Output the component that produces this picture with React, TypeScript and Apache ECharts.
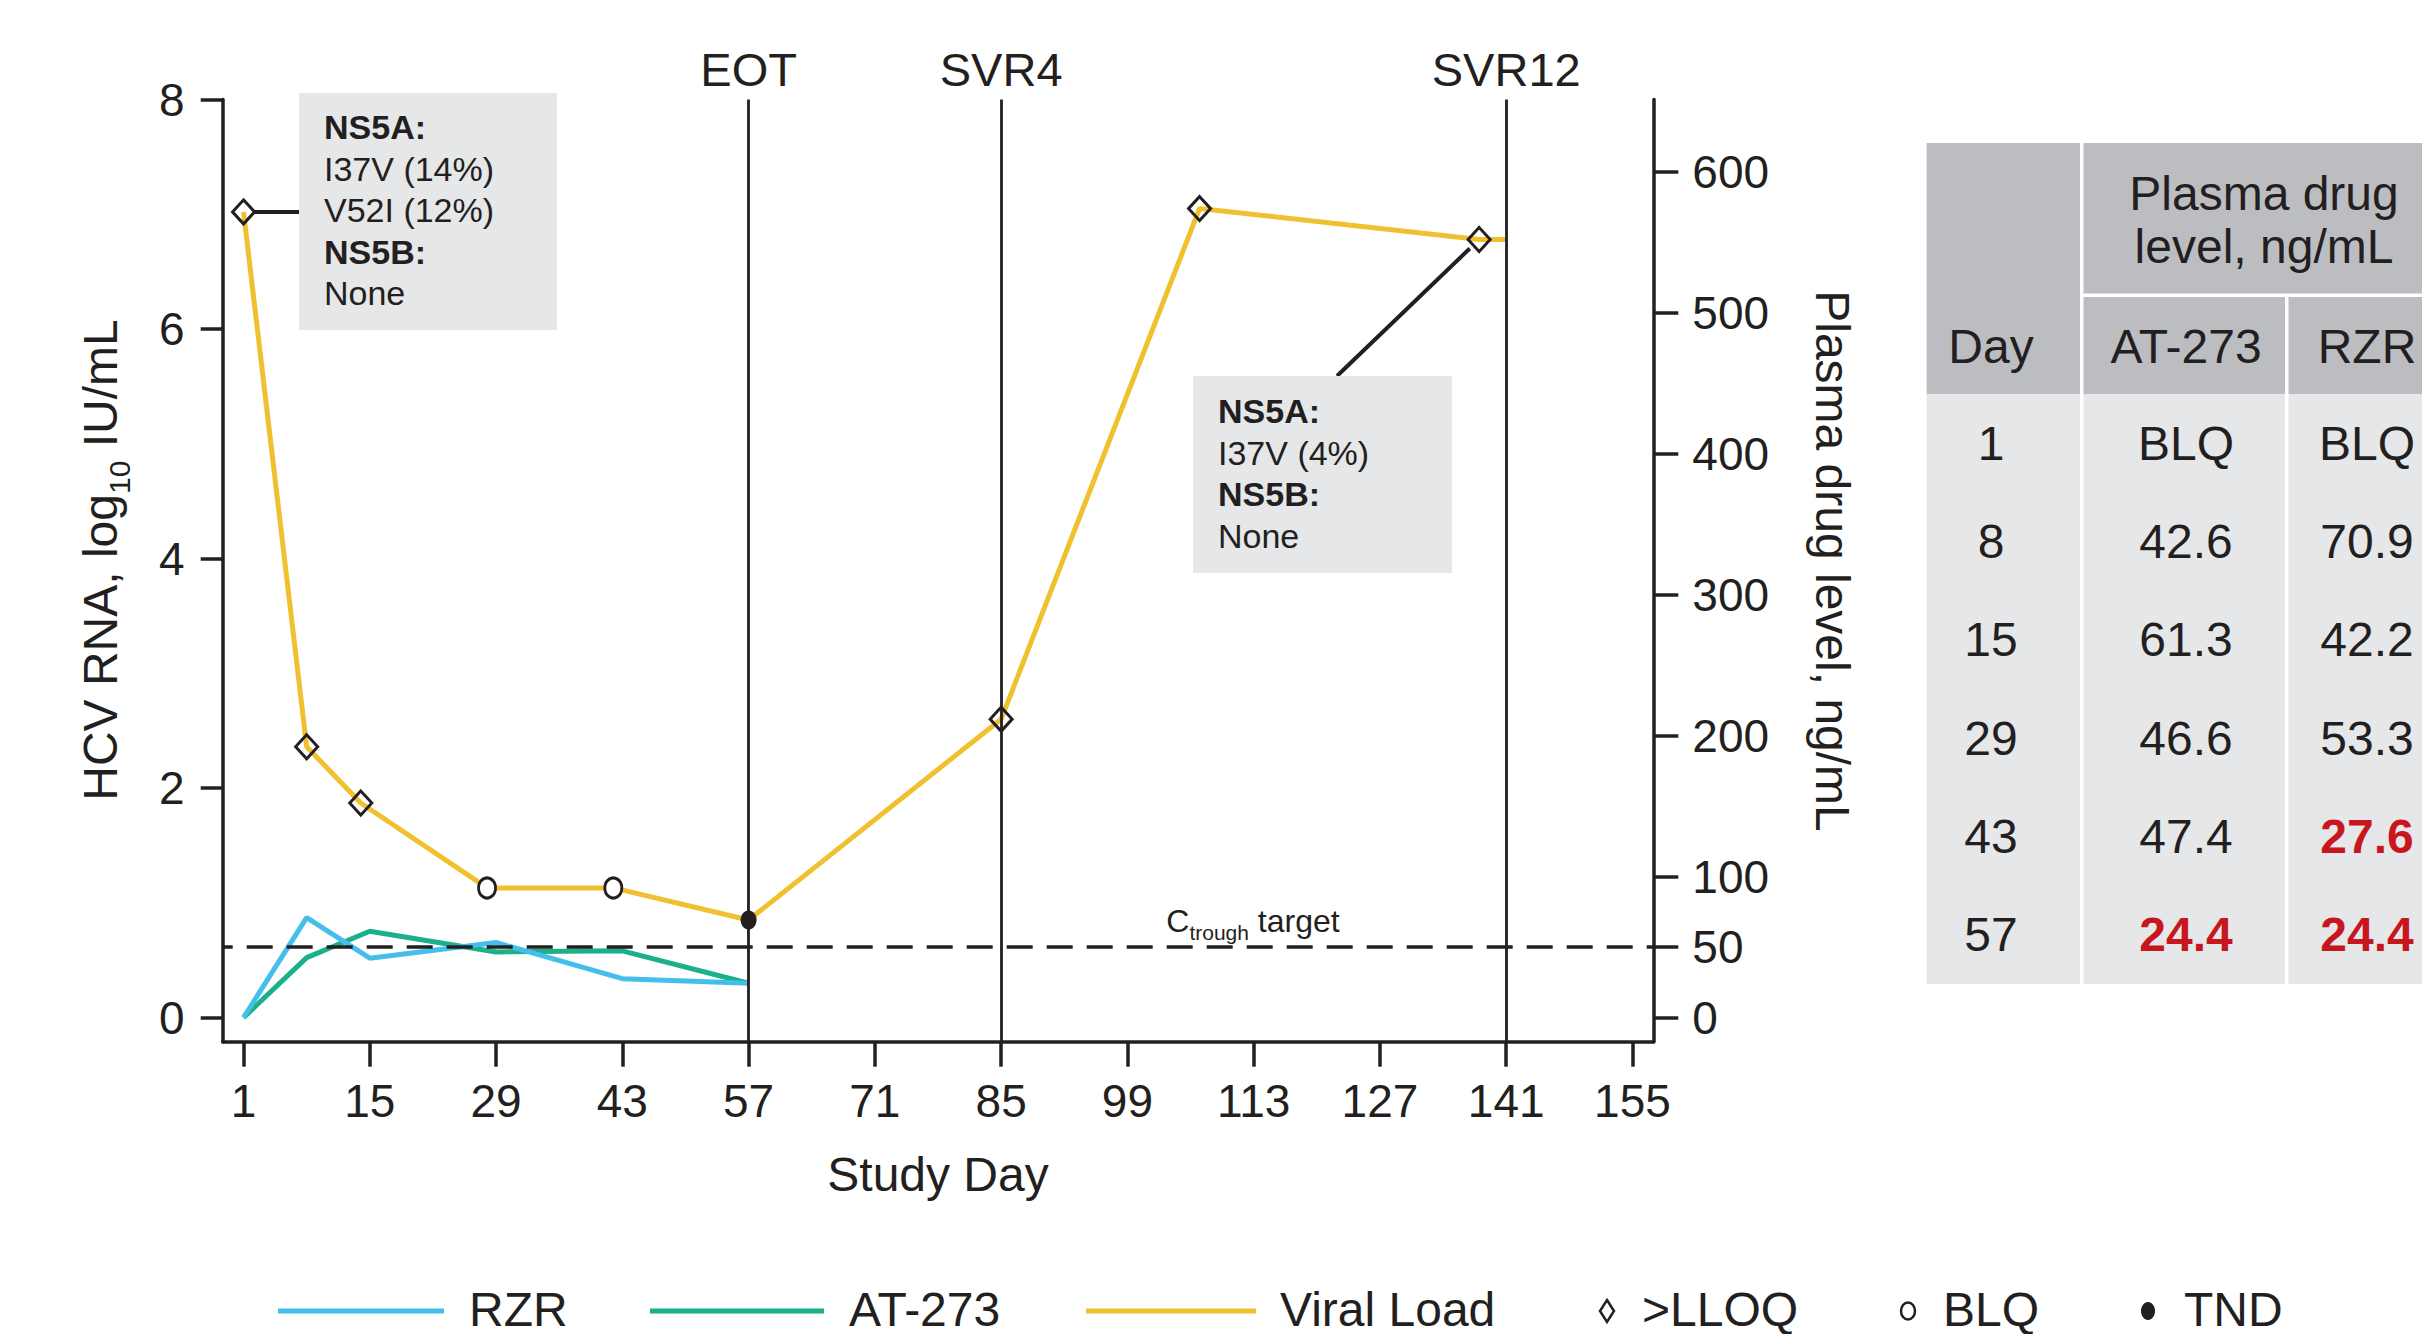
import { useEffect, useRef } from "react";
import * as echarts from "echarts";

const FONT = "'Liberation Sans', Arial, Helvetica, sans-serif";
const INK = "#231F20";
const RZR_COLOR = "#45BFEA";
const AT_COLOR = "#19B08A";
const VL_COLOR = "#EFC12F";
const RED = "#C8161E";
const BOX_FILL = "#E6E7E8";
const HEAD_FILL = "#BCBDC0";

// Plasma drug levels (ng/mL) at the PK sampling days; null = BLQ (plotted at 0)
const pkDays = [1, 8, 15, 29, 43, 57];
const at273Levels: (number | null)[] = [null, 42.6, 61.3, 46.6, 47.4, 24.4];
const rzrLevels: (number | null)[] = [null, 70.9, 42.2, 53.3, 27.6, 24.4];
const lowLevelCutoff = 30; // levels under this are printed in red

// HCV RNA, log10 IU/mL
const vlDays = [1, 8, 14, 28, 42, 57, 85, 107, 138, 141];
const vlValues = [7.02, 2.36, 1.87, 1.13, 1.13, 0.85, 2.6, 7.05, 6.78, 6.78];
const vlStatus = ["LLOQ", "LLOQ", "LLOQ", "BLQ", "BLQ", "TND", "LLOQ", "LLOQ", "LLOQ", ""];

const xTicks = [1, 15, 29, 43, 57, 71, 85, 99, 113, 127, 141, 155];
const leftTicks = [0, 2, 4, 6, 8];
const rightTicks = [0, 50, 100, 200, 300, 400, 500, 600];

const milestoneDays = [57, 85, 141];
const milestoneLabels = ["EOT", "SVR4", "SVR12"];
const ctroughTarget = 50;

const baselineNotes = [
  { text: "NS5A:", bold: true },
  { text: "I37V (14%)", bold: false },
  { text: "V52I (12%)", bold: false },
  { text: "NS5B:", bold: true },
  { text: "None", bold: false },
];
const reboundNotes = [
  { text: "NS5A:", bold: true },
  { text: "I37V (4%)", bold: false },
  { text: "NS5B:", bold: true },
  { text: "None", bold: false },
];

const legendLines = [
  { label: "RZR", color: RZR_COLOR, x0: 278, x1: 444, tx: 469 },
  { label: "AT-273", color: AT_COLOR, x0: 650, x1: 824, tx: 849 },
  { label: "Viral Load", color: VL_COLOR, x0: 1086, x1: 1256, tx: 1280 },
];

// Axis extents (the plot frame sits slightly outside the first/last ticks)
const X_MIN = -1.31;
const X_MAX = 157.31;
const L_MIN = -0.21;
const L_MAX = 8;
const R_MIN = -17.1;
const R_MAX = 651.6;

function markerFor(status: string) {
  if (status === "LLOQ") {
    return {
      symbol: "diamond",
      symbolSize: [22, 24],
      itemStyle: { color: "rgba(0,0,0,0)", borderColor: INK, borderWidth: 3 },
    };
  }
  if (status === "BLQ") {
    return {
      symbol: "circle",
      symbolSize: [17, 20],
      itemStyle: { color: "#ffffff", borderColor: INK, borderWidth: 3 },
    };
  }
  if (status === "TND") {
    return {
      symbol: "circle",
      symbolSize: [16, 19],
      itemStyle: { color: INK, borderColor: INK, borderWidth: 0 },
    };
  }
  return { symbol: "none", symbolSize: 0 };
}

function buildOption() {
  const axisLineStyle = { color: INK, width: 3.5 };
  const labelStyle = { fontSize: 46, color: INK, fontFamily: FONT };
  return {
    animation: false,
    backgroundColor: "#ffffff",
    textStyle: { fontFamily: FONT },
    grid: { left: 222.7, right: 768.7, top: 99.5, bottom: 292.3, containLabel: false },
    xAxis: {
      type: "value",
      min: X_MIN,
      max: X_MAX,
      axisLine: { show: true, onZero: false, lineStyle: axisLineStyle },
      axisTick: { show: true, customValues: xTicks, length: 25, lineStyle: axisLineStyle },
      axisLabel: { ...labelStyle, customValues: xTicks, margin: 36 },
      splitLine: { show: false },
    },
    yAxis: [
      {
        type: "value",
        position: "left",
        min: L_MIN,
        max: L_MAX,
        axisLine: { show: true, onZero: false, lineStyle: axisLineStyle },
        axisTick: { show: true, customValues: leftTicks, length: 22, lineStyle: axisLineStyle },
        axisLabel: { ...labelStyle, customValues: leftTicks, margin: 38 },
        splitLine: { show: false },
      },
      {
        type: "value",
        position: "right",
        min: R_MIN,
        max: R_MAX,
        axisLine: { show: true, onZero: false, lineStyle: axisLineStyle },
        axisTick: { show: true, customValues: rightTicks, length: 25, lineStyle: axisLineStyle },
        axisLabel: { ...labelStyle, customValues: rightTicks, margin: 39 },
        splitLine: { show: false },
      },
    ],
    series: [
      {
        // Ctrough target reference
        type: "line",
        yAxisIndex: 1,
        data: [],
        z: 1,
        markLine: {
          silent: true,
          symbol: ["none", "none"],
          label: { show: false },
          lineStyle: { type: [26, 14], dashOffset: 16, width: 3.5, color: INK },
          data: [{ yAxis: ctroughTarget }],
        },
      },
      {
        // Study milestones
        type: "line",
        yAxisIndex: 0,
        data: [],
        z: 2,
        markLine: {
          silent: true,
          symbol: ["none", "none"],
          lineStyle: { type: "solid", width: 2.8, color: INK },
          label: {
            show: true,
            position: "end",
            formatter: "{b}",
            distance: 7,
            fontSize: 47,
            color: INK,
            fontFamily: FONT,
          },
          data: milestoneDays.map((d, i) => ({ xAxis: d, name: milestoneLabels[i] })),
        },
      },
      {
        name: "AT-273",
        type: "line",
        yAxisIndex: 1,
        z: 3,
        symbol: "none",
        lineStyle: { width: 5, color: AT_COLOR },
        itemStyle: { color: AT_COLOR },
        data: pkDays.map((d, i) => [d, at273Levels[i] ?? 0]),
      },
      {
        name: "RZR",
        type: "line",
        yAxisIndex: 1,
        z: 3,
        symbol: "none",
        lineStyle: { width: 5, color: RZR_COLOR },
        itemStyle: { color: RZR_COLOR },
        data: pkDays.map((d, i) => [d, rzrLevels[i] ?? 0]),
      },
      {
        name: "Viral Load",
        type: "line",
        yAxisIndex: 0,
        z: 4,
        lineStyle: { width: 5, color: VL_COLOR },
        itemStyle: { color: VL_COLOR },
        data: vlDays.map((d, i) => ({ value: [d, vlValues[i]], ...markerFor(vlStatus[i]) })),
      },
    ],
  };
}

function textEl(text: string, x: number, y: number, size: number, opts: any = {}) {
  return {
    type: "text",
    z: 20,
    x,
    y,
    rotation: opts.rotation ?? 0,
    style: {
      text,
      fontSize: size,
      fontFamily: FONT,
      fontWeight: opts.bold ? "bold" : "normal",
      fill: opts.fill ?? INK,
      align: opts.align ?? "center",
      verticalAlign: "middle",
      lineHeight: opts.lineHeight,
      rich: opts.rich,
    },
  };
}

function noteBox(notes: { text: string; bold: boolean }[], x: number, y: number, w: number, h: number, firstY: number) {
  const items: any[] = [
    { type: "rect", z: 15, shape: { x, y, width: w, height: h }, style: { fill: BOX_FILL } },
  ];
  notes.forEach((n, i) => {
    items.push(textEl(n.text, x + 25, firstY + i * 41.5, 34, { align: "left", bold: n.bold }));
  });
  return items;
}

function buildTable() {
  const left = 1926.6;
  const dayRight = 2080;
  const c2Left = 2083.5;
  const c2Right = 2285;
  const c3Left = 2288.5;
  const c3Right = 2446;
  const top = 143;
  const h1Bottom = 293.5;
  const h2Top = 297;
  const headBottom = 394;
  const bottom = 984;
  const rect = (x0: number, y0: number, x1: number, y1: number, fill: string) => ({
    type: "rect",
    z: 15,
    shape: { x: x0, y: y0, width: x1 - x0, height: y1 - y0 },
    style: { fill },
  });
  const dayX = 1991;
  const c2X = 2186;
  const c3X = 2367;
  const items: any[] = [
    rect(left, top, dayRight, headBottom, HEAD_FILL),
    rect(c2Left, top, c3Right, h1Bottom, HEAD_FILL),
    rect(c2Left, h2Top, c2Right, headBottom, HEAD_FILL),
    rect(c3Left, h2Top, c3Right, headBottom, HEAD_FILL),
    rect(left, headBottom, dayRight, bottom, BOX_FILL),
    rect(c2Left, headBottom, c2Right, bottom, BOX_FILL),
    rect(c3Left, headBottom, c3Right, bottom, BOX_FILL),
    textEl("Plasma drug", 2264, 193, 48),
    textEl("level, ng/mL", 2264, 246, 48),
    textEl("Day", dayX, 346, 48),
    textEl("AT-273", c2X, 346, 48),
    textEl("RZR", c3X, 346, 48),
  ];
  const rowH = (bottom - headBottom) / pkDays.length;
  const cell = (v: number | null, x: number, y: number) => {
    if (v === null) return textEl("BLQ", x, y, 48);
    const low = v < lowLevelCutoff;
    return textEl(v.toFixed(1), x, y, 48, { bold: low, fill: low ? RED : INK });
  };
  pkDays.forEach((d, i) => {
    const y = headBottom + rowH * (i + 0.5);
    items.push(textEl(String(d), dayX, y, 48));
    items.push(cell(at273Levels[i], c2X, y));
    items.push(cell(rzrLevels[i], c3X, y));
  });
  return items;
}

function buildLegend() {
  const y = 1311;
  const ty = 1309;
  const items: any[] = [];
  legendLines.forEach((l) => {
    items.push({
      type: "line",
      z: 15,
      shape: { x1: l.x0, y1: y, x2: l.x1, y2: y },
      style: { stroke: l.color, lineWidth: 5 },
    });
    items.push(textEl(l.label, l.tx, ty, 48, { align: "left", lineHeight: 44 }));
  });
  // >LLOQ diamond
  items.push({
    type: "polygon",
    z: 15,
    shape: { points: [[1607, y - 11], [1614, y], [1607, y + 11], [1600, y]] },
    style: { fill: "none", stroke: INK, lineWidth: 2.5 },
  });
  items.push(textEl(">LLOQ", 1642, ty, 48, { align: "left", lineHeight: 44 }));
  // BLQ open circle
  items.push({
    type: "ellipse",
    z: 15,
    shape: { cx: 1908, cy: y, rx: 7, ry: 8.5 },
    style: { fill: "none", stroke: INK, lineWidth: 2.5 },
  });
  items.push(textEl("BLQ", 1943, ty, 48, { align: "left", lineHeight: 44 }));
  // TND filled circle
  items.push({
    type: "ellipse",
    z: 15,
    shape: { cx: 2148, cy: y, rx: 7, ry: 9 },
    style: { fill: INK },
  });
  items.push(textEl("TND", 2184, ty, 48, { align: "left", lineHeight: 44 }));
  return items;
}

function buildGraphics(chart: echarts.ECharts) {
  const vlIndex = 4;
  const rzrIndex = 3;
  const first = chart.convertToPixel({ seriesIndex: vlIndex }, [vlDays[0], vlValues[0]]) as number[];
  const rebound = chart.convertToPixel({ seriesIndex: vlIndex }, [vlDays[8], vlValues[8]]) as number[];
  const target = chart.convertToPixel({ seriesIndex: rzrIndex }, [0, ctroughTarget]) as number[];

  const box1 = { x: 299, y: 93, w: 258, h: 237 };
  const box2 = { x: 1193, y: 376, w: 259, h: 197 };

  // connector from the rebound point to the top of the second note
  const endX = 1337;
  const endY = box2.y;
  const dx = endX - rebound[0];
  const dy = endY - rebound[1];
  const len = Math.hypot(dx, dy);
  const startX = rebound[0] + (dx / len) * 13;
  const startY = rebound[1] + (dy / len) * 13;

  const plotMidX = (chart.convertToPixel({ seriesIndex: vlIndex }, [X_MIN, 0]) as number[])[0] / 2 +
    (chart.convertToPixel({ seriesIndex: vlIndex }, [X_MAX, 0]) as number[])[0] / 2;

  return [
    ...noteBox(baselineNotes, box1.x, box1.y, box1.w, box1.h, 127),
    {
      type: "line",
      z: 14,
      shape: { x1: first[0] + 11, y1: first[1], x2: box1.x, y2: first[1] },
      style: { stroke: INK, lineWidth: 4 },
    },
    ...noteBox(reboundNotes, box2.x, box2.y, box2.w, box2.h, 411),
    {
      type: "line",
      z: 14,
      shape: { x1: startX, y1: startY, x2: endX, y2: endY },
      style: { stroke: INK, lineWidth: 4 },
    },
    textEl("{c|C}{s|trough}{c| target}", 1253, target[1] - 28, 32, {
      rich: {
        c: { fontSize: 32, fontFamily: FONT, fill: INK, lineHeight: 36, verticalAlign: "bottom" },
        s: { fontSize: 21, fontFamily: FONT, fill: INK, lineHeight: 21, verticalAlign: "bottom", padding: [0, 0, -6, 0] },
      },
    }),
    textEl("HCV RNA, log{s|10} IU/mL", 100, 560, 48, {
      rotation: Math.PI / 2,
      rich: {
        s: { fontSize: 30, fontFamily: FONT, fill: INK, verticalAlign: "bottom", lineHeight: 30, padding: [0, 0, -10, 0] },
      },
    }),
    textEl("Plasma drug level, ng/mL", 1832, 561, 48, { rotation: -Math.PI / 2 }),
    textEl("Study Day", plotMidX, 1174, 48),
    ...buildTable(),
    ...buildLegend(),
  ];
}

export default function App() {
  const ref = useRef<HTMLDivElement>(null);
  useEffect(() => {
    const el = ref.current;
    if (!el) return;
    const chart = echarts.init(el, null, { renderer: "svg" });
    chart.setOption(buildOption() as any);
    chart.setOption({ graphic: buildGraphics(chart) } as any);
    return () => chart.dispose();
  }, []);
  return (
    <div
      ref={ref}
      style={{ position: "fixed", left: 0, top: 0, width: 2422, height: 1334, background: "#ffffff" }}
    />
  );
}
